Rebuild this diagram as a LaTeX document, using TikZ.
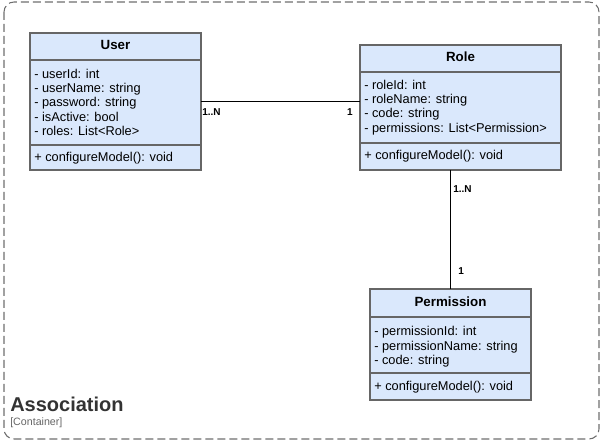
\documentclass[tikz,border=0pt]{standalone}
\usepackage{fontspec}
\setmainfont{Liberation Sans}
\definecolor{classfill}{RGB}{218,232,252}
\definecolor{classedge}{RGB}{102,102,102}
\definecolor{boundary}{RGB}{110,110,110}
\definecolor{notegray}{RGB}{102,102,102}
\tikzset{
  classbox/.style={draw=classedge, line width=1.2pt, fill=classfill, inner sep=0pt, outer sep=0pt},
  classline/.style={draw=classedge, line width=1.1pt},
  classtitle/.style={anchor=base, inner sep=0pt, font=\fontsize{10}{12}\selectfont\bfseries},
  members/.style={anchor=base west, inner sep=0pt, align=left, font=\fontsize{9.6}{10.7}\selectfont},
  assoc/.style={line width=1.4pt},
  mult/.style={inner sep=0pt, font=\fontsize{7.5}{9}\selectfont\bfseries},
}
\begin{document}
\begin{tikzpicture}[x=0.75pt,y=0.75pt,yscale=-1,xscale=1]
\useasboundingbox (0,0) rectangle (601,442);
%Shape: Container
\draw [boundary, line width=0.8pt, dash pattern=on 6pt off 3pt, rounded corners=7.5pt] (4,2) rectangle (599,439);
% Text Node
\node (contname) [anchor=base west, inner sep=0pt, font=\fontsize{15}{17}\selectfont\bfseries, text={rgb,255:red,51;green,51;blue,51}] at (10,412) {Association};
% Text Node
\node (conttype) [anchor=base west, inner sep=0pt, font=\fontsize{8}{9}\selectfont, text=notegray] at (10,426) {[Container]};

%Shape: Class User
\node (user) [classbox, minimum width=128.25pt, minimum height=102.75pt] at (115.5,101.5) {};
\draw [classline] (user.west |- 0,60) -- (user.east |- 0,60);
\draw [classline] (user.west |- 0,145) -- (user.east |- 0,145);
\node (usertitle) [classtitle] at (115.5,49.3) {User};
% base of the last member line
\node (userattr) [members] at (34,135.5) {- userId: int\\- userName: string\\- password: string\\- isActive: bool\\- roles: List<Role>};
\node (useroper) [members] at (34,161.7) {+ configureModel(): void};

%Shape: Class Role
\node (role) [classbox, minimum width=150.75pt, minimum height=93.75pt] at (460.5,107.5) {};
\draw [classline] (role.west |- 0,72) -- (role.east |- 0,72);
\draw [classline] (role.west |- 0,143) -- (role.east |- 0,143);
\node (roletitle) [classtitle] at (460.5,61.7) {Role};
\node (roleattr) [members] at (364,132.2) {- roleId: int\\- roleName: string\\- code: string\\- permissions: List<Permission>};
\node (roleoper) [members] at (364,160) {+ configureModel(): void};

%Shape: Class Permission
\node (perm) [classbox, minimum width=120.75pt, minimum height=83.25pt] at (450.5,344.5) {};
\draw [classline] (perm.west |- 0,317) -- (perm.east |- 0,317);
\draw [classline] (perm.west |- 0,373) -- (perm.east |- 0,373);
\node (permtitle) [classtitle] at (450.5,306.7) {Permission};
\node (permattr) [members] at (374,364.3) {- permissionId: int\\- permissionName: string\\- code: string};
\node (permoper) [members] at (374,390.7) {+ configureModel(): void};

% Associations
\draw [assoc] (user.east) -- (user.east -| role.west);
\node (userend) [mult, anchor=base west] at (202,116) {1..N};
\node (roleend) [mult, anchor=base east] at (353,116) {1};
\draw [assoc] (role.south -| perm.north) -- (perm.north);
\node (roledown) [mult, anchor=base west] at (453,193) {1..N};
\node (permend) [mult, anchor=base west] at (458,275) {1};
\end{tikzpicture}
\end{document}
